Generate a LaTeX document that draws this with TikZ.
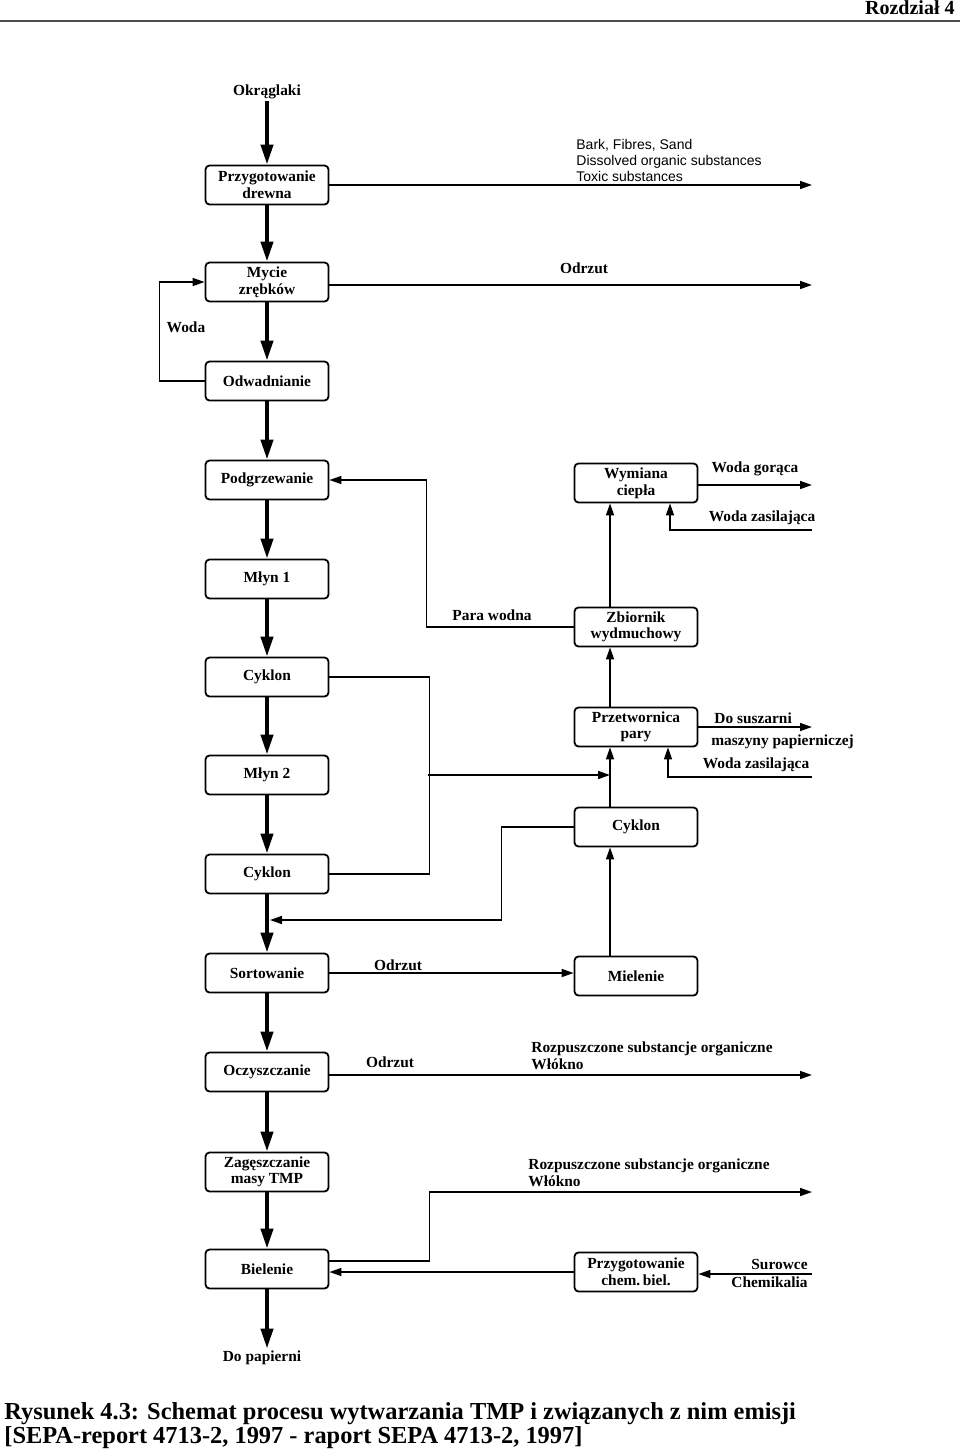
\documentclass[tikz,border=0pt]{standalone}
\usepackage{fontspec}
\setmainfont{Liberation Serif}
\newfontfamily\opisfont{Liberation Sans}
\usetikzlibrary{arrows.meta}

\begin{document}
\begin{tikzpicture}[x=0.5pt, y=-0.5pt,
  blok/.style={draw, line width=0.9pt, rounded corners=2pt, minimum width=61.5pt,
    minimum height=19.5pt, align=center, inner sep=1pt,
    font=\bfseries\fontsize{7.7}{8.3}\selectfont},
  etykieta/.style={inner sep=1pt, align=center, font=\bfseries\fontsize{7.7}{8.5}\selectfont},
  opis/.style={inner sep=0pt, anchor=north west, align=left, font=\opisfont\fontsize{7}{8}\selectfont},
  glowna/.style={line width=2pt, -{Triangle[length=10pt,width=6pt]}},
  boczna/.style={line width=0.8pt, -{Triangle[length=6pt,width=4pt]}},
  linia/.style={line width=0.8pt}]
\useasboundingbox (0,0) rectangle (960,1456);
%%
%% naglowek
\node [anchor=base east, inner sep=0pt, font=\bfseries\fontsize{10}{12}\selectfont] (rozdz) at (955,14) {Rozdział 4};
\draw [line width=1pt, black!70] (0,21) -- (960,21);
%%
%% glowna linia
\node [etykieta] (okr) at (267,92) {Okrąglaki};
\node [blok] (przyg) at (267,185) {Przygotowanie\\drewna};
\node [blok] (mycie) at (267,282) {Mycie\\zrębków};
\node [blok] (odwad) at (267,381) {Odwadnianie};
\node [blok] (podgrz) at (267,480) {Podgrzewanie};
\node [blok] (mlyna) at (267,579) {Młyn 1};
\node [blok] (cyka) at (267,677) {Cyklon};
\node [blok] (mlynb) at (267,775) {Młyn 2};
\node [blok] (cykb) at (267,874) {Cyklon};
\node [blok] (sort) at (267,973) {Sortowanie};
\node [blok] (oczysz) at (267,1072) {Oczyszczanie};
\node [blok] (zagesz) at (267,1172) {Zagęszczanie\\masy TMP};
\node [blok] (biel) at (267,1269) {Bielenie};
\node [etykieta] (dopap) at (262,1358) {Do papierni};
%%
\draw [glowna] (okr) -- (przyg);
\draw [glowna] (przyg) -- (mycie);
\draw [glowna] (mycie) -- (odwad);
\draw [glowna] (odwad) -- (podgrz);
\draw [glowna] (podgrz) -- (mlyna);
\draw [glowna] (mlyna) -- (cyka);
\draw [glowna] (cyka) -- (mlynb);
\draw [glowna] (mlynb) -- (cykb);
\draw [glowna] (cykb) -- (sort);
\draw [glowna] (sort) -- (oczysz);
\draw [glowna] (oczysz) -- (zagesz);
\draw [glowna] (zagesz) -- (biel);
\draw [glowna] (biel.south) -- (biel.south |- dopap.north);
%%
%% prawa kolumna
\node [blok] (wym) at (636,483) {Wymiana\\ciepła};
\node [blok] (zbior) at (636,627) {Zbiornik\\wydmuchowy};
\node [blok] (przetw) at (636,727) {Przetwornica\\pary};
\node [blok] (cykc) at (636,827) {Cyklon};
\node [blok] (miel) at (636,976) {Mielenie};
\node [blok] (chem) at (636,1272) {Przygotowanie\\chem.\,biel.};
%%
%% wyjscia w prawo
\coordinate (wyja) at (812,185);
\coordinate (wyjb) at (812,285);
\coordinate (wyjc) at (812,485);
\coordinate (wejc) at (812,530);
\coordinate (wyjd) at (812,727);
\coordinate (wejd) at (812,777);
\coordinate (wyje) at (812,1075);
\coordinate (wyjf) at (812,1192);
\coordinate (wejf) at (812,1274);
%%
\draw [boczna] (przyg.east) -- (wyja);
\node [opis] (emisja) at (576,139) {Bark, Fibres, Sand\\Dissolved organic substances\\Toxic substances};
\draw [boczna] (mycie.east |- wyjb) -- (wyjb);
\node [etykieta] (odrza) at (584,268) {Odrzut};
%% woda
\draw [boczna] (odwad.west) -- ++(-45,0) |- (mycie.west);
\node [etykieta] (woda) at (186,327) {Woda};
%% para wodna
\draw [boczna] (zbior.west) -- ++(-147,0) |- (podgrz.east);
\node [etykieta] (para) at (492,615) {Para wodna};
%% pionowa linia pary
\coordinate (pa) at ([xshift=-13pt]miel.north);
\draw [boczna] (pa) -- (pa |- cykc.south);
\draw [boczna] (pa |- cykc.north) -- (pa |- przetw.south);
\draw [boczna] (pa |- przetw.north) -- (pa |- zbior.south);
\draw [boczna] (pa |- zbior.north) -- (pa |- wym.south);
%% wymiana ciepla
\draw [boczna] (wym.east |- wyjc) -- (wyjc);
\node [etykieta] (wgor) at (755,469) {Woda gorąca};
\draw [boczna] (wejc) -| ([xshift=17pt]wym.south);
\node [etykieta] (wzasa) at (762,518) {Woda zasilająca};
%% przetwornica
\draw [boczna] (przetw.east) -- (wyjd);
\node [etykieta, anchor=west] (dosusz) at (712,718) {Do suszarni};
\node [etykieta, anchor=west] (maszyny) at (709,742) {maszyny papierniczej};
\draw [boczna] (wejd) -| ([xshift=16pt]przetw.south);
\node [etykieta] (wzasb) at (756,765) {Woda zasilająca};
%% cyklony
\draw [linia] (cyka.east) -- ++(100,0) |- (cykb.east);
\coordinate (zbieg) at (428,775);
\draw [boczna] (zbieg) -- (zbieg -| pa);
\coordinate (powrot) at (270,920);
\draw [boczna] (cykc.west) -- ++(-72,0) |- (powrot);
%% sortowanie
\draw [boczna] (sort.east) -- (sort.east -| miel.west);
\node [etykieta] (odrzb) at (398,965) {Odrzut};
%% oczyszczanie
\draw [boczna] (oczysz.east |- wyje) -- (wyje);
\node [etykieta] (odrzc) at (390,1062) {Odrzut};
\node [etykieta, anchor=west, align=left] (rozpa) at (529,1056) {Rozpuszczone substancje organiczne\\Włókno};
%% bielenie
\draw [boczna] ([yshift=4pt]biel.east) -- ++(100,0) |- (wyjf);
\node [etykieta, anchor=west, align=left] (rozpb) at (526,1173) {Rozpuszczone substancje organiczne\\Włókno};
\draw [boczna] (chem.west) -- (chem.west -| biel.east);
\draw [boczna] (wejf) -- (chem.east |- wejf);
\node [etykieta, anchor=east, align=right, font=\bfseries\fontsize{7.7}{9}\selectfont] (surowce) at (810,1273) {Surowce\\Chemikalia};
%%
%% podpis
\node [anchor=north west, inner sep=0pt, align=left, font=\bfseries\fontsize{12.2}{10.5}\selectfont] (podpis) at (4,1402)
  {Rysunek 4.3: Schemat procesu wytwarzania TMP i związanych z nim emisji\\
   {[}SEPA-report 4713-2, 1997 - raport SEPA 4713-2, 1997{]}};
\end{tikzpicture}
\end{document}
